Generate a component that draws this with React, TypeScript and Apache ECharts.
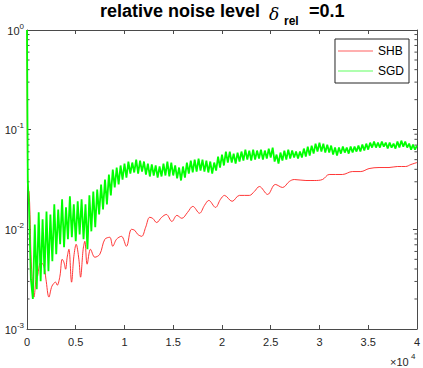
import React, { useEffect, useRef } from "react";
import * as echarts from "echarts";

// ---------- data ----------
const xTickStep = 5000;
const xMax = 40000;
const yMin = 0.001;
const yMax = 1;

const shbIter = [0, 41, 102, 205, 307, 409, 563, 716, 870, 992, 1074, 1228, 1402, 1739, 1944, 2251, 2558, 2936, 3100, 3376, 3611, 3785, 3959, 4123, 4297, 4573, 4808, 5044, 5320, 5494, 5760, 5933, 6169, 6517, 6957, 7468, 7980, 8491, 8798, 9176, 9688, 10199, 10711, 11049, 11355, 11765, 12174, 12583, 12890, 13299, 13811, 14291, 14864, 15376, 15887, 16470, 17012, 17698, 18209, 18649, 19335, 19846, 20255, 21043, 21790, 22813, 23324, 23836, 24685, 25473, 26219, 26905, 27416, 28613, 29462, 30311, 30996, 32357, 33380, 34240, 35089, 36112, 37135, 37984, 38843, 39385, 40000];
const shbValue = [1, 0.0631, 0.0251, 0.024, 0.0141, 0.00562, 0.00282, 0.00209, 0.00282, 0.00398, 0.00339, 0.00417, 0.00468, 0.00427, 0.00316, 0.00209, 0.00269, 0.00295, 0.00275, 0.00339, 0.00501, 0.00468, 0.00398, 0.00525, 0.00631, 0.00295, 0.00537, 0.00708, 0.00501, 0.00331, 0.00631, 0.00759, 0.00447, 0.00631, 0.00525, 0.00562, 0.00794, 0.00832, 0.00676, 0.00794, 0.00851, 0.00676, 0.01, 0.00977, 0.00891, 0.00851, 0.0105, 0.0132, 0.0129, 0.0117, 0.0132, 0.0141, 0.012, 0.0138, 0.0129, 0.0148, 0.017, 0.0145, 0.0174, 0.0195, 0.0166, 0.02, 0.0219, 0.0191, 0.0219, 0.0219, 0.024, 0.0269, 0.0224, 0.0282, 0.0263, 0.0302, 0.0316, 0.0309, 0.0309, 0.0316, 0.0355, 0.0355, 0.038, 0.038, 0.0407, 0.0417, 0.0417, 0.0427, 0.0427, 0.0447, 0.0468];

const sgdHeadIter = [0, 80];
const sgdHeadValue = [1, 0.03];
const sgdStep = 200; // iterations between the sampled SGD values below
const sgdValue = [
  0.0178, 0.00316, 0.002, 0.0112, 0.00251, 0.0148, 0.00302, 0.0126, 0.00355, 0.0151,
  0.0038, 0.0141, 0.00479, 0.0178, 0.00562, 0.0158, 0.00708, 0.02, 0.00661, 0.0166,
  0.00794, 0.0214, 0.00832, 0.0178, 0.00759, 0.0191, 0.00891, 0.02, 0.00794, 0.0178,
  0.00631, 0.0219, 0.00955, 0.024, 0.0105, 0.0251, 0.0141, 0.0282, 0.0158, 0.0316,
  0.0178, 0.0355, 0.0219, 0.0398, 0.0263, 0.0417, 0.0282, 0.0437, 0.0316, 0.0457,
  0.0331, 0.0479, 0.0363, 0.0468, 0.0372, 0.0501, 0.0363, 0.049, 0.038, 0.0479,
  0.0355, 0.0457, 0.0339, 0.0447, 0.0347, 0.0437, 0.0331, 0.0427, 0.0339, 0.0457,
  0.0347, 0.0479, 0.0339, 0.0468, 0.0347, 0.0437, 0.0324, 0.0417, 0.0309, 0.0427,
  0.0331, 0.0468, 0.0363, 0.049, 0.0372, 0.0501, 0.038, 0.0513, 0.0389, 0.0501,
  0.038, 0.049, 0.0372, 0.0479, 0.0363, 0.0468, 0.0389, 0.0537, 0.0417, 0.0562,
  0.0437, 0.0603, 0.0468, 0.0603, 0.0468, 0.0575, 0.0457, 0.0589, 0.0479, 0.0603,
  0.049, 0.0631, 0.0501, 0.0617, 0.049, 0.0631, 0.0501, 0.0617, 0.0513, 0.0631,
  0.0501, 0.0617, 0.0513, 0.0646, 0.0525, 0.0661, 0.0479, 0.0562, 0.0457, 0.0589,
  0.049, 0.0617, 0.0501, 0.0631, 0.0513, 0.0617, 0.0525, 0.0603, 0.0513, 0.0603,
  0.0525, 0.0646, 0.0537, 0.0676, 0.055, 0.0692, 0.0575, 0.0724, 0.0603, 0.0741,
  0.0603, 0.0724, 0.0589, 0.0708, 0.0589, 0.0692, 0.0562, 0.0661, 0.055, 0.0661,
  0.0575, 0.0676, 0.0589, 0.0661, 0.0575, 0.0676, 0.0589, 0.0676, 0.0603, 0.0692,
  0.0603, 0.0708, 0.0617, 0.0724, 0.0631, 0.0741, 0.0661, 0.0759, 0.0661, 0.0741,
  0.0661, 0.0759, 0.0676, 0.0741, 0.0646, 0.0741, 0.0661, 0.0724, 0.0646, 0.0759,
  0.0661, 0.0776, 0.0676, 0.0759, 0.0661, 0.0724, 0.0631, 0.0708, 0.0631, 0.0692,
];

const minorTickValues = [
  0.002, 0.003, 0.004, 0.005, 0.006, 0.007, 0.008, 0.009,
  0.02, 0.03, 0.04, 0.05, 0.06, 0.07, 0.08, 0.09,
  0.2, 0.3, 0.4, 0.5, 0.6, 0.7, 0.8, 0.9,
];

const seriesNames = ["SHB", "SGD"];
const titleMain = "relative noise level";
const titleSymbol = "δ";
const titleSub = "rel";
const titleTail = "=0.1";

// ---------- build ----------
const shbData = shbIter.slice(0, Math.min(shbIter.length, shbValue.length)).map((x, i) => [x, shbValue[i]]);
const sgdData = [
  ...sgdHeadIter.map((x, i) => [x, sgdHeadValue[i]]),
  ...sgdValue.map((v, i) => [(i + 1) * sgdStep, v]),
];

const FONT = "'Liberation Sans', Arial, Helvetica, sans-serif";
const AX = "#4a4a4a";
const TXT = "#262626";

export default function App() {
  const ref = useRef<HTMLDivElement>(null);
  useEffect(() => {
    const chart = echarts.init(ref.current!, null, { renderer: "svg" });
    const axisCommon = {
      axisLine: { show: true, onZero: false, lineStyle: { color: AX, width: 1 } },
      splitLine: { show: false },
    };
    chart.setOption({
      animation: false,
      backgroundColor: "#ffffff",
      legend: {
        data: seriesNames,
        orient: "vertical",
        right: 14,
        top: 39,
        padding: [5, 5, 5, 3],
        itemGap: 6,
        itemWidth: 35,
        itemHeight: 1,
        icon: "rect",
        backgroundColor: "#fff",
        borderColor: "#262626",
        borderWidth: 1,
        borderRadius: 0,
        textStyle: { fontFamily: FONT, fontSize: 12, color: "#000", lineHeight: 14 },
      },
      grid: { left: 27, right: 5, top: 30, bottom: 39, containLabel: false },
      xAxis: [
        {
          type: "value",
          min: 0,
          max: xMax,
          interval: xTickStep,
          position: "bottom",
          ...axisCommon,
          axisTick: { show: true, inside: true, length: 4, lineStyle: { color: AX } },
          axisLabel: {
            show: true,
            margin: 7,
            fontFamily: FONT,
            fontSize: 11,
            color: TXT,
            formatter: (v: number) => String(v / 1e4),
          },
        },
        {
          type: "value",
          min: 0,
          max: xMax,
          interval: xTickStep,
          position: "top",
          ...axisCommon,
          axisTick: { show: true, inside: true, length: 4, lineStyle: { color: AX } },
          axisLabel: { show: false },
        },
      ],
      yAxis: [
        {
          type: "log",
          logBase: 10,
          min: yMin,
          max: yMax,
          position: "left",
          ...axisCommon,
          axisTick: { show: true, inside: true, length: 4, lineStyle: { color: AX } },
          axisLabel: {
            show: true,
            margin: 3,
            formatter: (v: number) => `{b|10}{s|${Math.round(Math.log10(v))}}`,
            rich: {
              b: { fontFamily: FONT, fontSize: 11, color: TXT, lineHeight: 12, verticalAlign: "bottom" },
              s: { fontFamily: FONT, fontSize: 8, color: TXT, lineHeight: 8, padding: [0, 0, 6, 0], verticalAlign: "bottom" },
            },
          },
        },
        {
          type: "log",
          logBase: 10,
          min: yMin,
          max: yMax,
          position: "right",
          ...axisCommon,
          axisTick: { show: true, inside: true, length: 4, lineStyle: { color: AX } },
          axisLabel: { show: false },
        },
      ],
      graphic: [
        {
          type: "text",
          x: 100,
          y: 11,
          style: { text: titleMain, font: `bold 18px ${FONT}`, fill: "#000", textVerticalAlign: "middle" },
        },
        {
          type: "text",
          x: 269,
          y: 14,
          style: { text: titleSymbol, font: `italic 17px 'DejaVu Serif', serif`, fill: "#000", textVerticalAlign: "middle" },
        },
        {
          type: "text",
          x: 284,
          y: 21,
          style: { text: titleSub, font: `bold 12px ${FONT}`, fill: "#000", textVerticalAlign: "middle" },
        },
        {
          type: "text",
          x: 309,
          y: 11,
          style: { text: titleTail, font: `bold 18px ${FONT}`, fill: "#000", textVerticalAlign: "middle" },
        },
        {
          type: "text",
          x: 390,
          y: 362,
          style: { text: "×10", font: `11px ${FONT}`, fill: TXT, textVerticalAlign: "middle" },
        },
        {
          type: "text",
          x: 411,
          y: 356,
          style: { text: "4", font: `8px ${FONT}`, fill: TXT, textVerticalAlign: "middle" },
        },
      ],
      series: [
        {
          name: "minor",
          type: "custom",
          silent: true,
          xAxisIndex: 0,
          yAxisIndex: 0,
          data: minorTickValues.map((v) => [0, v]),
          renderItem: (params: any, api: any) => {
            const y = api.coord([0, api.value(1)])[1];
            const cs = params.coordSys;
            const style = { stroke: AX, lineWidth: 1 };
            return {
              type: "group",
              children: [
                { type: "line", shape: { x1: cs.x, y1: y, x2: cs.x + 2.5, y2: y }, style },
                { type: "line", shape: { x1: cs.x + cs.width, y1: y, x2: cs.x + cs.width - 2.5, y2: y }, style },
              ],
            };
          },
        },
        {
          name: "SHB",
          type: "line",
          data: shbData,
          showSymbol: false,
          symbol: "none",
          smooth: 0.35,
          lineStyle: { color: "#ff2020", width: 0.9 },
          itemStyle: { color: "#ff6060" },
          z: 3,
        },
        {
          name: "SGD",
          type: "line",
          data: sgdData,
          showSymbol: false,
          symbol: "none",
          lineStyle: { color: "#00ff00", width: 1.8 },
          itemStyle: { color: "#60ff60" },
          z: 4,
        },
      ],
    });
    return () => chart.dispose();
  }, []);
  return (
    <div
      ref={ref}
      style={{ position: "absolute", left: 0, top: 0, width: 423, height: 368, background: "#fff" }}
    />
  );
}
